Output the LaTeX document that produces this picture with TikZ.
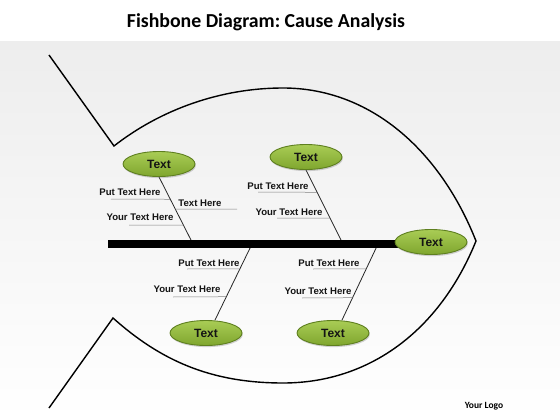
\documentclass[tikz,border=0pt]{standalone}
\usepackage{fontspec}
\setmainfont{Liberation Sans}
\newfontfamily\titlefont{Carlito}
\usetikzlibrary{shapes.geometric,shadows,calc}
\definecolor{elltop}{HTML}{A9CC55}
\definecolor{ellmid}{HTML}{CBE385}
\definecolor{ellbot}{HTML}{7FA62E}
\definecolor{ellrim}{HTML}{5E7F1F}
\pgfdeclarelayer{back}
\pgfdeclarelayer{bones}
\pgfsetlayers{back,bones,main}
\begin{document}
\begin{tikzpicture}[x=1pt,y=-1pt,
  fishline/.style={line width=1.4pt,black},
  bone/.style={line width=0.8pt,black!85},
  uline/.style={line width=0.5pt,black!50},
  cause/.style={ellipse,minimum width=72pt,minimum height=25pt,inner sep=0pt,
     draw=ellrim,line width=0.9pt,top color=elltop,middle color=ellmid,bottom color=ellbot,
     drop shadow={opacity=0.35,shadow xshift=0.8pt,shadow yshift=-1.6pt},
     font=\bfseries\fontsize{12}{14}\selectfont,text=black!92},
  lbl/.style={font=\bfseries\fontsize{9.6}{11}\selectfont,text=black!92,inner sep=0pt}]
\useasboundingbox (0,0) rectangle (560,420);
\begin{pgfonlayer}{back}
\fill[white] (0,0) rectangle (560,420);
\shade[top color=black!7,middle color=black!3,bottom color=white] (0,42) rectangle (560,420);
\end{pgfonlayer}
\node[font=\titlefont\bfseries\fontsize{19.8}{22}\selectfont] (title) at (266,22) {Fishbone Diagram:\ Cause Analysis};
% fish outline
\coordinate (tt) at (49,55);
\coordinate (tu) at (114,146);
\coordinate (nose) at (476,241);
\coordinate (tl) at (113,318);
\coordinate (tb) at (49,408);
\draw[fishline,line join=miter] (tt) -- (tu)
   .. controls (160,110) and (220,88) .. (283,88)
   .. controls (370,88) and (440,150) .. (nose)
   .. controls (440,330) and (370,383) .. (283,383)
   .. controls (210,383) and (160,360) .. (tl) -- (tb);
% nodes
\node[cause] (e1) at (159,164) {Text};
\node[cause] (e2) at (306,157) {Text};
\node[cause] (e4) at (206,333) {Text};
\node[cause] (e5) at (333,333) {Text};
\node[cause] (e6) at (431,242) {Text};
\coordinate (tail) at (108,244);
\coordinate (s1) at (193,244);
\coordinate (s2) at (343,244);
\coordinate (s4) at (252,244);
\coordinate (s5) at (378,244);
\begin{pgfonlayer}{bones}
\draw[bone] (e1.south) -- (s1);
\draw[bone] (e2.south) -- (s2);
\draw[bone] (s4) -- ([xshift=9pt]e4.north);
\draw[bone] (s5) -- ([xshift=9pt]e5.north);
\draw[line width=8pt] (tail) -- (tail -| e6.center);
\end{pgfonlayer}
% underlines
\coordinate (u11) at (111,199);
\coordinate (u12) at (237,209);
\coordinate (u13) at (129,225);
\draw[uline] (u11) -- ($(e1.south)!0.333!(s1)$);
\draw[uline] ($(e1.south)!0.481!(s1)$) -- (u12);
\draw[uline] (u13) -- ($(e1.south)!0.719!(s1)$);
\coordinate (u21) at (258,192);
\coordinate (u22) at (277,218);
\draw[uline] (u21) -- ($(e2.south)!0.302!(s2)$);
\draw[uline] (u22) -- ($(e2.south)!0.651!(s2)$);
\coordinate (u41) at (187,269);
\coordinate (u42) at (173,297);
\draw[uline] (u41) -- ($(s4)!0.327!([xshift=9pt]e4.north)$);
\draw[uline] (u42) -- ($(s4)!0.693!([xshift=9pt]e4.north)$);
\coordinate (u51) at (313,269);
\coordinate (u52) at (302,298);
\draw[uline] (u51) -- ($(s5)!0.327!([xshift=9pt]e5.north)$);
\draw[uline] (u52) -- ($(s5)!0.706!([xshift=9pt]e5.north)$);
% labels
\node[lbl] (l11) at (130,192) {Put Text Here};
\node[lbl] (l12) at (200,203) {Text Here};
\node[lbl] (l13) at (140,217) {Your Text Here};
\node[lbl] (l21) at (278,186) {Put Text Here};
\node[lbl] (l22) at (289,212) {Your Text Here};
\node[lbl] (l41) at (209,263) {Put Text Here};
\node[lbl] (l42) at (187,289) {Your Text Here};
\node[lbl] (l51) at (329,263) {Put Text Here};
\node[lbl] (l52) at (318,291) {Your Text Here};
\node[font=\titlefont\bfseries\fontsize{9.5}{11}\selectfont] (logo) at (484,406) {Your Logo};
\end{tikzpicture}
\end{document}
